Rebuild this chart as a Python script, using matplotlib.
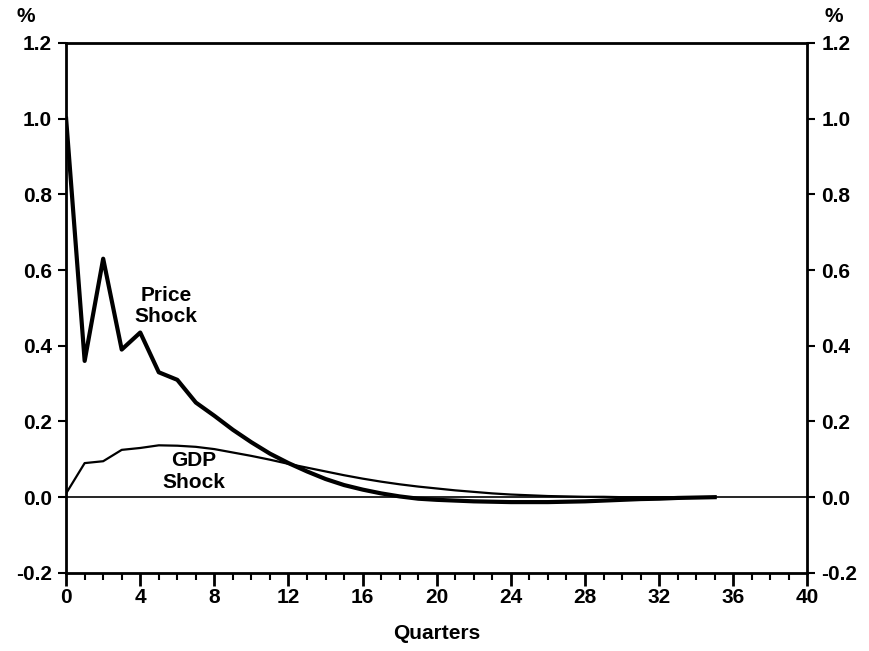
import numpy as np
import matplotlib.pyplot as plt
from matplotlib.ticker import MultipleLocator

plt.rcParams['font.family'] = ['Liberation Sans', 'DejaVu Sans']
plt.rcParams['font.weight'] = 'bold'

quarters = list(range(36))
price_shock = [1.0, 0.36, 0.63, 0.39, 0.435, 0.33, 0.31, 0.25, 0.215, 0.178,
               0.145, 0.115, 0.09, 0.068, 0.048, 0.032, 0.02, 0.01, 0.002, -0.004,
               -0.007, -0.009, -0.011, -0.012, -0.013, -0.013, -0.013, -0.012, -0.011, -0.009,
               -0.007, -0.005, -0.004, -0.002, -0.001, 0.0]
gdp_shock = [0.01, 0.09, 0.095, 0.125, 0.13, 0.137, 0.136, 0.133, 0.127, 0.118,
             0.109, 0.099, 0.088, 0.078, 0.068, 0.058, 0.049, 0.041, 0.034, 0.028,
             0.023, 0.018, 0.014, 0.01, 0.007, 0.005, 0.003, 0.002, 0.001, 0.001,
             0.0, 0.0, 0.0, 0.0, 0.0, 0.0]

fig = plt.figure(figsize=(8.7, 6.51), dpi=100)
ax = fig.add_axes([0.076, 0.12, 0.852, 0.814])

ax.axhline(0, color='black', lw=1.2)
ax.plot(quarters, gdp_shock, color='black', lw=1.6)
ax.plot(quarters, price_shock, color='black', lw=3.0)

ax.set_xlim(0, 40)
ax.set_ylim(-0.2, 1.2)
ax.xaxis.set_major_locator(MultipleLocator(4))
ax.xaxis.set_minor_locator(MultipleLocator(1))
ax.yaxis.set_major_locator(MultipleLocator(0.2))
ax.tick_params(axis='x', which='major', direction='out', length=9, width=2, labelsize=15, pad=2)
ax.tick_params(axis='x', which='minor', direction='out', length=5, width=1.5)
ax.tick_params(axis='y', which='major', direction='out', length=6, width=1.5, labelsize=15,
               left=True, right=True, labelleft=True, labelright=True, pad=4)
ax.set_yticklabels([f'{v:.1f}' for v in ax.get_yticks()])
for s in ax.spines.values():
    s.set_linewidth(2)

ax.set_xlabel('Quarters', fontsize=15, fontweight='bold', labelpad=12)
ax.text(-0.055, 1.04, '%', transform=ax.transAxes, fontsize=15, fontweight='bold', ha='center')
ax.text(1.035, 1.04, '%', transform=ax.transAxes, fontsize=15, fontweight='bold', ha='center')

ax.text(5.4, 0.505, 'Price\nShock', fontsize=15, fontweight='bold', ha='center', va='center', linespacing=1.15)
ax.text(6.9, 0.068, 'GDP\nShock', fontsize=15, fontweight='bold', ha='center', va='center', linespacing=1.15)

fig.savefig('out.png', dpi=100)
